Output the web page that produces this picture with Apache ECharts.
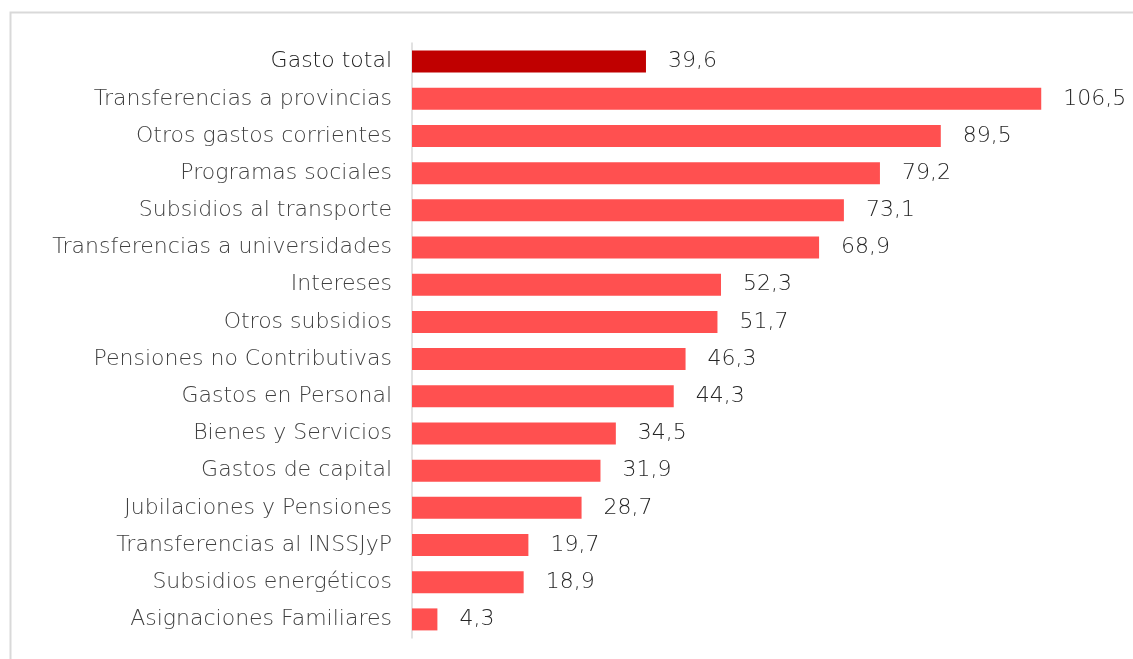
<!DOCTYPE html>
<html>
<head>
<meta charset="utf-8">
<script src="https://cdn.jsdelivr.net/npm/echarts@6/dist/echarts.min.js"></script>
<style>
  html, body { margin: 0; padding: 0; background: #fff; }
  #chart { width: 1133px; height: 659px; }
</style>
</head>
<body>
<div id="chart"></div>
<script>
// categories top to bottom
const categories = [
  "Gasto total",
  "Transferencias a provincias",
  "Otros gastos corrientes",
  "Programas sociales",
  "Subsidios al transporte",
  "Transferencias a universidades",
  "Intereses",
  "Otros subsidios",
  "Pensiones no Contributivas",
  "Gastos en Personal",
  "Bienes y Servicios",
  "Gastos de capital",
  "Jubilaciones y Pensiones",
  "Transferencias al INSSJyP",
  "Subsidios energéticos",
  "Asignaciones Familiares"
];
const values = [39.6, 106.5, 89.5, 79.2, 73.1, 68.9, 52.3, 51.7, 46.3, 44.3, 34.5, 31.9, 28.7, 19.7, 18.9, 4.3];

const chart = echarts.init(document.getElementById("chart"));

const fontFamily = "'DejaVu Sans', sans-serif";

let option = {
  backgroundColor: "#fff",
  animation: false,
  graphic: [
    {
      type: "rect",
      shape: { x: 10.5, y: 12.5, width: 1200, height: 700 },
      style: { fill: "none", stroke: "#d9d9d9", lineWidth: 2 },
      silent: true
    }
  ],
  grid: {
    left: 412,
    right: 12,
    top: 43,
    bottom: 21
  },
  xAxis: {
    type: "value",
    min: 0,
    max: 120,
    show: false
  },
  yAxis: {
    type: "category",
    inverse: true,
    data: categories,
    axisLine: { show: true, lineStyle: { color: "#d9d9d9", width: 1.5 } },
    axisTick: { show: false },
    axisLabel: {
      margin: 20,
      fontFamily: fontFamily,
      fontWeight: 300,
      fontSize: 22,
      color: function (v) {
        return v === "Gasto total" ? "#1a1a1a" : "#404040";
      }
    }
  },
  series: [
    {
      type: "bar",
      barWidth: 22,
      data: values.map((v, i) => ({
        value: v,
        itemStyle: { color: i === 0 ? "#c00000" : "#ff5050" }
      })),
      label: {
        show: true,
        position: "right",
        distance: 22,
        fontFamily: fontFamily,
        fontWeight: 300,
        fontSize: 22,
        color: "#262626",
        formatter: (p) => p.value.toFixed(1).replace(".", ",")
      }
    }
  ]
};

option && chart.setOption(option);
</script>
</body>
</html>
